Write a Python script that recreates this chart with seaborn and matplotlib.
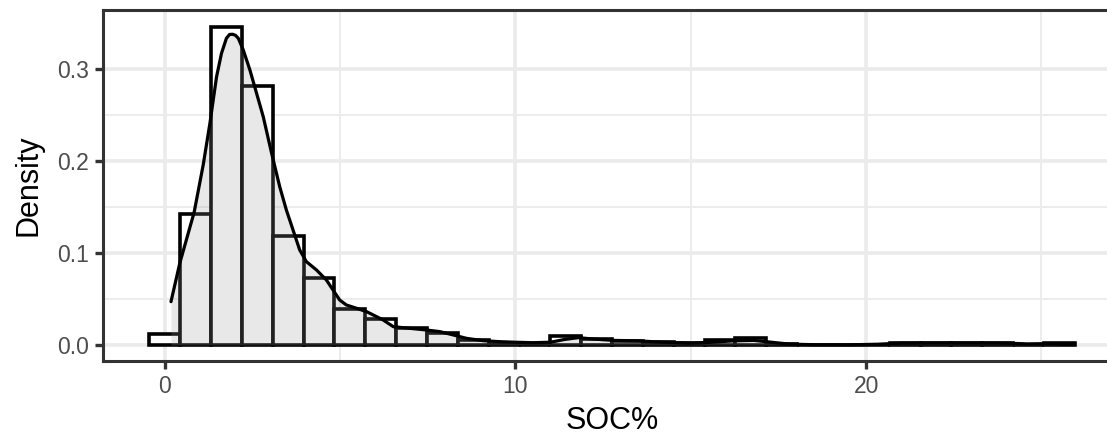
import numpy as np
import pandas as pd
import matplotlib
matplotlib.use("Agg")
import matplotlib.pyplot as plt
from matplotlib.ticker import FixedLocator
import seaborn as sns

# Histogram: 30 equal bins, first bin centred on 0
bin_width = 0.8797
n_bins = 30
hist_density = [0.0117, 0.1426, 0.3454, 0.2817, 0.1187, 0.0726, 0.0394, 0.0285,
                0.0183, 0.0128, 0.0057, 0.0015, 0.0, 0.0100, 0.0067, 0.0046,
                0.0030, 0.0026, 0.0050, 0.0074, 0.0015, 0.0, 0.0, 0.0,
                0.0026, 0.0026, 0.0026, 0.0026, 0.0, 0.0026]

# Kernel density estimate of SOC%
kde_x = [0.18, 0.43, 0.84, 1.10, 1.29, 1.48, 1.62, 1.76, 1.85, 1.94, 2.02, 2.10,
         2.24, 2.43, 2.62, 2.81, 3.05, 3.28, 3.47, 3.66, 3.85, 4.04, 4.33, 4.61,
         4.80, 4.99, 5.18, 5.47, 5.76, 6.23, 6.52, 6.99, 7.47, 7.85, 8.23, 8.61,
         9.08, 9.56, 10.0, 10.5, 11.0, 11.4, 11.8, 12.2, 12.8, 13.5, 14.2, 15.0,
         15.6, 16.2, 16.8, 17.3, 17.8, 18.5, 19.5, 20.3, 21.0, 22.0, 23.0, 24.0,
         24.6, 25.2, 25.5]
kde_y = [0.0471, 0.0888, 0.1442, 0.1960, 0.2410, 0.2917, 0.3170, 0.3333, 0.3375,
         0.3377, 0.3365, 0.3333, 0.3207, 0.2989, 0.2736, 0.2482, 0.2083, 0.1721,
         0.1467, 0.1250, 0.1033, 0.0906, 0.0815, 0.0707, 0.0598, 0.0489, 0.0435,
         0.0399, 0.0362, 0.0272, 0.0199, 0.0181, 0.0163, 0.0145, 0.0109, 0.0072,
         0.0047, 0.0036, 0.0030, 0.0025, 0.0030, 0.0060, 0.0080, 0.0065, 0.0050,
         0.0045, 0.0030, 0.0020, 0.0030, 0.0045, 0.0050, 0.0030, 0.0010, 0.0003,
         0.0002, 0.0008, 0.0020, 0.0022, 0.0022, 0.0020, 0.0012, 0.0015, 0.0014]

x_ticks = [0, 10, 20]
y_ticks = [0.0, 0.1, 0.2, 0.3]

bin_centers = np.arange(n_bins) * bin_width
bin_lo = -0.5 * bin_width
bin_hi = (n_bins - 0.5) * bin_width
hist_df = pd.DataFrame({"soc": bin_centers, "density": hist_density})
kde_df = pd.DataFrame({"soc": kde_x, "density": kde_y})

sns.set_style("white")
plt.rcParams["font.family"] = ["Liberation Sans", "DejaVu Sans"]

fig = plt.figure(figsize=(11.07, 4.37), dpi=100)
ax = fig.add_axes([0.0930, 0.1739, 0.9197, 0.8039])

grid_col = "#EBEBEB"
ax.set_axisbelow(True)

sns.histplot(data=hist_df, x="soc", weights="density", binwidth=bin_width,
             binrange=(bin_lo, bin_hi), stat="count", color="white",
             edgecolor="black", linewidth=2.6, alpha=1, ax=ax)

ax.fill_between(kde_df["soc"], kde_df["density"], color="#999999", alpha=0.22,
                linewidth=0, zorder=3)
sns.lineplot(data=kde_df, x="soc", y="density", color="black", linewidth=2.3,
             ax=ax, zorder=4)

ax.set_xlim(-1.76, 27.27)
ax.set_ylim(-0.0174, 0.3644)

ax.xaxis.set_major_locator(FixedLocator(x_ticks))
ax.yaxis.set_major_locator(FixedLocator(y_ticks))
ax.xaxis.set_minor_locator(FixedLocator([5, 15, 25]))
ax.yaxis.set_minor_locator(FixedLocator([0.05, 0.15, 0.25]))
ax.set_xticklabels([str(t) for t in x_ticks])
ax.set_yticklabels([f"{t:.1f}" for t in y_ticks])

ax.grid(which="major", color=grid_col, linewidth=2.6)
ax.grid(which="minor", color=grid_col, linewidth=1.3)

ax.tick_params(which="major", length=6, width=2.4, color="#333333",
               labelsize=16.5, labelcolor="#4D4D4D", pad=4,
               bottom=True, left=True)
ax.tick_params(which="minor", length=0)

for s in ax.spines.values():
    s.set_color("#333333")
    s.set_linewidth(2.2)
    s.set_zorder(6)

ax.set_xlabel("SOC%", fontsize=22, color="black", labelpad=6)
ax.set_ylabel("Density", fontsize=22, color="black", labelpad=10)

fig.savefig("out.png", dpi=100)
